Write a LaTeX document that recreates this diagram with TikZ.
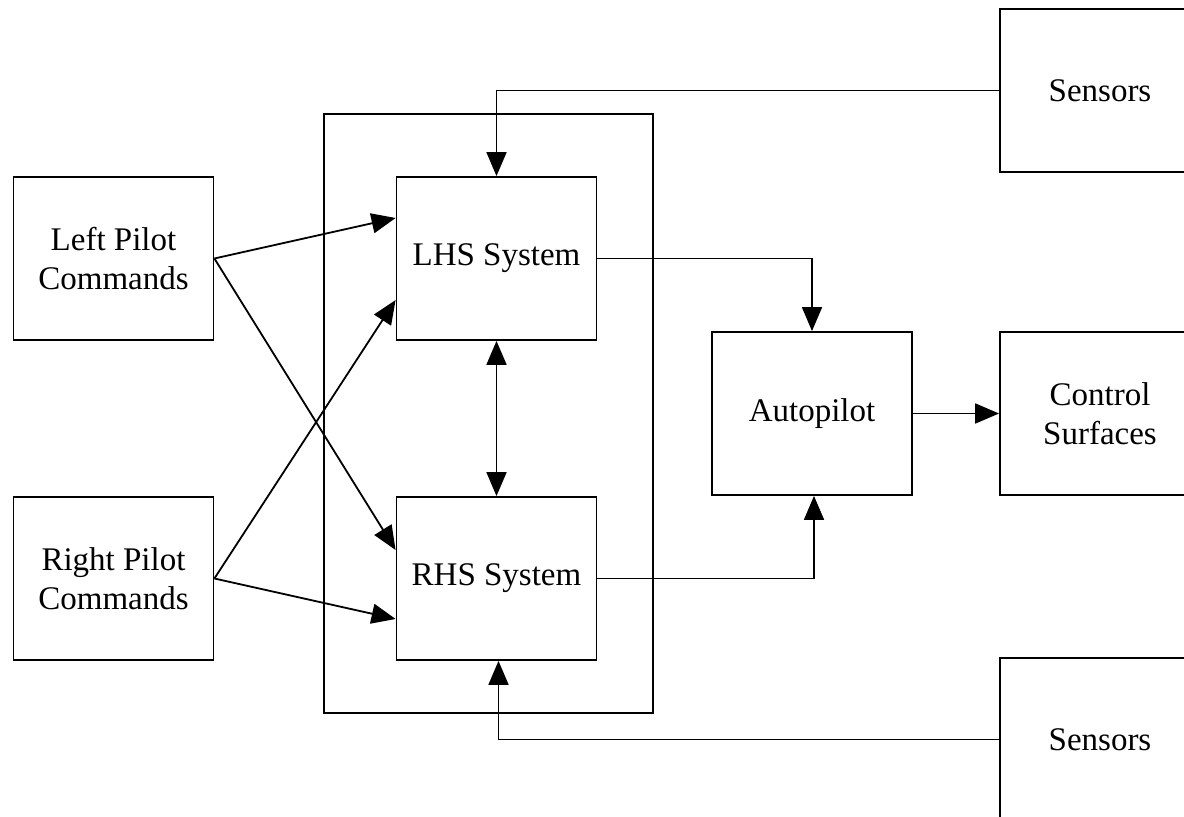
\documentclass[tikz,border=0pt]{standalone}
\usepackage{fontspec}
\setmainfont{Liberation Serif}
\usetikzlibrary{arrows.meta}
\begin{document}
\begin{tikzpicture}[x=0.5pt,y=-0.5pt,
  box/.style={draw, line width=0.9pt, minimum width=100pt, minimum height=81.5pt,
    align=center, inner sep=0pt, font=\fontsize{16.5}{19.5}\selectfont},
  tip/.tip={Triangle[length=12pt,width=10pt]},
  conn/.style={line width=0.9pt, -tip},
  dconn/.style={line width=0.9pt, tip-tip}]
\useasboundingbox (0,0) rectangle (1184,817);
\clip (0,0) rectangle (1184,817);

% redundant channel enclosure
\node[draw, line width=0.9pt, minimum width=164.5pt, minimum height=299.5pt] (group) at (488.5,413.5) {};

% pilot inputs
\node[box] (lpc) at (113.5,258.5) {Left Pilot\\Commands};
\node[box] (rpc) at (113.5,578.5) {Right Pilot\\Commands};

% the two channels
\node[box] (lhs) at (496.5,258.5) {LHS System};
\node[box] (rhs) at (496.5,578.5) {RHS System};

% downstream blocks
\node[box] (auto) at (812,413.5) {Autopilot};
\node[box] (surf) at (1100,413.5) {Control\\Surfaces};
\node[box] (sensa) at (1100,90.5) {Sensors};
\node[box] (sensb) at (1100,739.5) {Sensors};

% cross-fed pilot commands
\draw[conn] (lpc.east) -- ([yshift=20.25pt]lhs.west);
\draw[conn] (lpc.east) -- ([yshift=14.25pt]rhs.west);
\draw[conn] (rpc.east) -- ([yshift=-20.75pt]lhs.west);
\draw[conn] (rpc.east) -- ([yshift=-20.25pt]rhs.west);

% channel cross-link
\draw[dconn] (lhs.south) -- (rhs.north);

% sensor feeds
\draw[conn] (sensa.west) -| (lhs.north);
\draw[conn] (sensb.west) -| ([xshift=1pt]rhs.south);

% to autopilot and control surfaces
\draw[conn] (lhs.east) -| (auto.north);
\draw[conn] (rhs.east) -| ([xshift=1pt]auto.south);
\draw[conn] (auto.east) -- (surf.west);
\end{tikzpicture}
\end{document}
